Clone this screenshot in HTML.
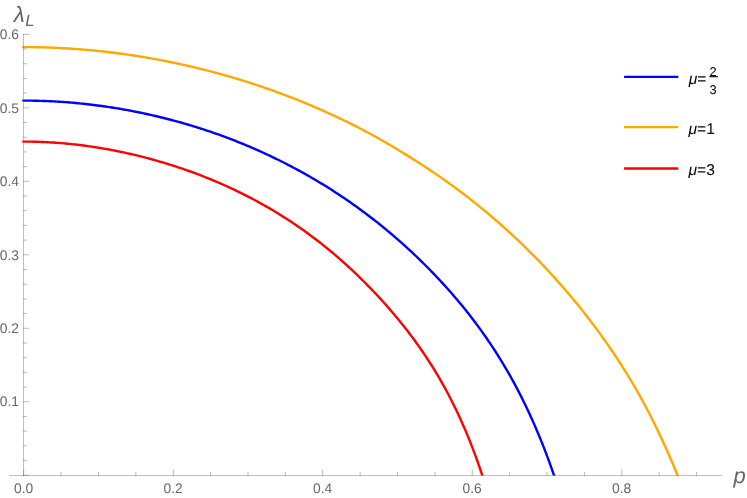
<!DOCTYPE html>
<html><head><meta charset="utf-8"><title>plot</title>
<style>
html,body{margin:0;padding:0;background:#fff;}
body{width:747px;height:498px;overflow:hidden;font-family:"Liberation Sans",sans-serif;}
svg{display:block;will-change:transform;}
text{text-rendering:geometricPrecision;}
</style></head><body>
<svg width="747" height="498" viewBox="0 0 747 498">
<rect width="747" height="498" fill="#fff"/>
<defs><clipPath id="c"><rect x="0" y="0" width="747" height="475.8"/></clipPath></defs>
<g fill="none" stroke-width="2.4" stroke-linejoin="round" clip-path="url(#c)">
<path d="M22.30 100.60 L23.60 100.60 L25.60 100.61 L27.60 100.62 L29.60 100.64 L31.60 100.66 L33.60 100.69 L35.60 100.73 L37.60 100.78 L39.60 100.83 L41.60 100.89 L43.60 100.96 L45.60 101.03 L47.60 101.12 L49.60 101.20 L51.60 101.30 L53.60 101.40 L55.60 101.51 L57.60 101.63 L59.60 101.75 L61.60 101.88 L63.60 102.02 L65.60 102.17 L67.60 102.32 L69.60 102.48 L71.60 102.65 L73.60 102.82 L75.60 103.00 L77.60 103.19 L79.60 103.38 L81.60 103.58 L83.60 103.79 L85.60 104.01 L87.60 104.23 L89.60 104.46 L91.60 104.70 L93.60 104.94 L95.60 105.19 L97.60 105.45 L99.60 105.72 L101.60 105.99 L103.60 106.27 L105.60 106.56 L107.60 106.85 L109.60 107.15 L111.60 107.46 L113.60 107.77 L115.60 108.09 L117.60 108.42 L119.60 108.76 L121.60 109.10 L123.60 109.45 L125.60 109.81 L127.60 110.17 L129.60 110.55 L131.60 110.92 L133.60 111.31 L135.60 111.70 L137.60 112.10 L139.60 112.51 L141.60 112.93 L143.60 113.35 L145.60 113.78 L147.60 114.21 L149.60 114.66 L151.60 115.11 L153.60 115.57 L155.60 116.03 L157.60 116.50 L159.60 116.98 L161.60 117.47 L163.60 117.97 L165.60 118.47 L167.60 118.98 L169.60 119.50 L171.60 120.02 L173.60 120.55 L175.60 121.09 L177.60 121.64 L179.60 122.20 L181.60 122.76 L183.60 123.33 L185.60 123.91 L187.60 124.49 L189.60 125.09 L191.60 125.69 L193.60 126.30 L195.60 126.92 L197.60 127.54 L199.60 128.17 L201.60 128.82 L203.60 129.47 L205.60 130.12 L207.60 130.79 L209.60 131.46 L211.60 132.14 L213.60 132.83 L215.60 133.53 L217.60 134.24 L219.60 134.95 L221.60 135.68 L223.60 136.41 L225.60 137.15 L227.60 137.90 L229.60 138.66 L231.60 139.42 L233.60 140.20 L235.60 140.98 L237.60 141.77 L239.60 142.57 L241.60 143.38 L243.60 144.20 L245.60 145.03 L247.60 145.87 L249.60 146.71 L251.60 147.57 L253.60 148.43 L255.60 149.30 L257.60 150.19 L259.60 151.08 L261.60 151.98 L263.60 152.89 L265.60 153.81 L267.60 154.74 L269.60 155.68 L271.60 156.62 L273.60 157.58 L275.60 158.55 L277.60 159.53 L279.60 160.51 L281.60 161.51 L283.60 162.52 L285.60 163.53 L287.60 164.56 L289.60 165.60 L291.60 166.64 L293.60 167.70 L295.60 168.77 L297.60 169.85 L299.60 170.93 L301.60 172.03 L303.60 173.14 L305.60 174.26 L307.60 175.40 L309.60 176.54 L311.60 177.69 L313.60 178.86 L315.60 180.03 L317.60 181.22 L319.60 182.42 L321.60 183.63 L323.60 184.85 L325.60 186.08 L327.60 187.33 L329.60 188.59 L331.60 189.85 L333.60 191.14 L335.60 192.43 L337.60 193.74 L339.60 195.06 L341.60 196.39 L343.60 197.73 L345.60 199.09 L347.60 200.46 L349.60 201.85 L351.60 203.25 L353.60 204.66 L355.60 206.08 L357.60 207.52 L359.60 208.97 L361.60 210.44 L363.60 211.92 L365.60 213.41 L367.60 214.92 L369.60 216.44 L371.60 217.98 L373.60 219.53 L375.60 221.10 L377.60 222.68 L379.60 224.28 L381.60 225.89 L383.60 227.52 L385.60 229.16 L387.60 230.82 L389.60 232.49 L391.60 234.18 L393.60 235.89 L395.60 237.61 L397.60 239.35 L399.60 241.10 L401.60 242.87 L403.60 244.66 L405.60 246.47 L407.60 248.29 L409.60 250.13 L411.60 251.98 L413.60 253.86 L415.60 255.75 L417.60 257.66 L419.60 259.59 L421.60 261.54 L423.60 263.51 L425.60 265.49 L427.60 267.50 L429.60 269.53 L431.60 271.58 L433.60 273.65 L435.60 275.74 L437.60 277.85 L439.60 279.99 L441.60 282.14 L443.60 284.33 L445.60 286.53 L447.60 288.76 L449.60 291.02 L451.60 293.30 L453.60 295.60 L455.60 297.94 L457.60 300.30 L459.60 302.69 L461.60 305.11 L463.60 307.56 L465.60 310.04 L467.60 312.56 L469.60 315.11 L471.60 317.69 L473.60 320.30 L475.60 322.96 L477.60 325.65 L479.60 328.37 L481.60 331.14 L483.60 333.95 L485.60 336.80 L487.60 339.70 L489.60 342.64 L491.60 345.63 L493.60 348.67 L495.60 351.76 L497.60 354.90 L499.60 358.09 L501.60 361.34 L503.60 364.65 L505.60 368.02 L507.60 371.45 L509.60 374.94 L511.60 378.50 L513.60 382.13 L515.60 385.84 L517.60 389.62 L519.60 393.47 L521.60 397.41 L523.60 401.42 L525.60 405.53 L527.60 409.72 L529.60 414.01 L531.60 418.39 L533.60 422.88 L535.60 427.46 L537.60 432.16 L539.60 436.97 L541.60 441.89 L543.60 446.93 L545.60 452.09 L547.60 457.39 L549.60 462.82 L551.60 468.39 L553.60 474.10 L555.60 479.96" stroke="#0000ff"/>
<path d="M22.30 47.09 L23.60 47.09 L25.60 47.09 L27.60 47.10 L29.60 47.11 L31.60 47.13 L33.60 47.16 L35.60 47.19 L37.60 47.22 L39.60 47.26 L41.60 47.31 L43.60 47.36 L45.60 47.42 L47.60 47.49 L49.60 47.56 L51.60 47.63 L53.60 47.71 L55.60 47.80 L57.60 47.89 L59.60 47.99 L61.60 48.09 L63.60 48.20 L65.60 48.31 L67.60 48.43 L69.60 48.56 L71.60 48.69 L73.60 48.83 L75.60 48.97 L77.60 49.12 L79.60 49.27 L81.60 49.43 L83.60 49.59 L85.60 49.76 L87.60 49.94 L89.60 50.12 L91.60 50.30 L93.60 50.50 L95.60 50.69 L97.60 50.90 L99.60 51.10 L101.60 51.32 L103.60 51.54 L105.60 51.76 L107.60 51.99 L109.60 52.23 L111.60 52.47 L113.60 52.72 L115.60 52.97 L117.60 53.23 L119.60 53.49 L121.60 53.76 L123.60 54.04 L125.60 54.32 L127.60 54.60 L129.60 54.89 L131.60 55.19 L133.60 55.49 L135.60 55.80 L137.60 56.12 L139.60 56.43 L141.60 56.76 L143.60 57.09 L145.60 57.43 L147.60 57.77 L149.60 58.11 L151.60 58.47 L153.60 58.82 L155.60 59.19 L157.60 59.56 L159.60 59.93 L161.60 60.31 L163.60 60.70 L165.60 61.09 L167.60 61.49 L169.60 61.89 L171.60 62.30 L173.60 62.71 L175.60 63.13 L177.60 63.56 L179.60 63.99 L181.60 64.42 L183.60 64.87 L185.60 65.31 L187.60 65.77 L189.60 66.23 L191.60 66.69 L193.60 67.16 L195.60 67.64 L197.60 68.12 L199.60 68.61 L201.60 69.10 L203.60 69.60 L205.60 70.11 L207.60 70.62 L209.60 71.14 L211.60 71.66 L213.60 72.19 L215.60 72.72 L217.60 73.26 L219.60 73.81 L221.60 74.36 L223.60 74.92 L225.60 75.48 L227.60 76.06 L229.60 76.63 L231.60 77.21 L233.60 77.80 L235.60 78.40 L237.60 79.00 L239.60 79.60 L241.60 80.22 L243.60 80.83 L245.60 81.46 L247.60 82.09 L249.60 82.73 L251.60 83.37 L253.60 84.02 L255.60 84.68 L257.60 85.34 L259.60 86.01 L261.60 86.68 L263.60 87.36 L265.60 88.05 L267.60 88.75 L269.60 89.45 L271.60 90.15 L273.60 90.87 L275.60 91.59 L277.60 92.31 L279.60 93.05 L281.60 93.79 L283.60 94.54 L285.60 95.29 L287.60 96.05 L289.60 96.82 L291.60 97.59 L293.60 98.37 L295.60 99.16 L297.60 99.95 L299.60 100.75 L301.60 101.56 L303.60 102.38 L305.60 103.20 L307.60 104.03 L309.60 104.86 L311.60 105.71 L313.60 106.56 L315.60 107.42 L317.60 108.28 L319.60 109.15 L321.60 110.03 L323.60 110.92 L325.60 111.82 L327.60 112.72 L329.60 113.63 L331.60 114.55 L333.60 115.47 L335.60 116.41 L337.60 117.35 L339.60 118.30 L341.60 119.25 L343.60 120.22 L345.60 121.19 L347.60 122.17 L349.60 123.16 L351.60 124.16 L353.60 125.17 L355.60 126.18 L357.60 127.21 L359.60 128.24 L361.60 129.28 L363.60 130.33 L365.60 131.39 L367.60 132.45 L369.60 133.53 L371.60 134.61 L373.60 135.71 L375.60 136.81 L377.60 137.92 L379.60 139.04 L381.60 140.17 L383.60 141.31 L385.60 142.45 L387.60 143.61 L389.60 144.77 L391.60 145.94 L393.60 147.12 L395.60 148.31 L397.60 149.51 L399.60 150.71 L401.60 151.93 L403.60 153.15 L405.60 154.38 L407.60 155.62 L409.60 156.87 L411.60 158.12 L413.60 159.39 L415.60 160.66 L417.60 161.94 L419.60 163.23 L421.60 164.53 L423.60 165.84 L425.60 167.15 L427.60 168.48 L429.60 169.81 L431.60 171.16 L433.60 172.51 L435.60 173.87 L437.60 175.24 L439.60 176.62 L441.60 178.02 L443.60 179.42 L445.60 180.83 L447.60 182.25 L449.60 183.69 L451.60 185.13 L453.60 186.59 L455.60 188.05 L457.60 189.53 L459.60 191.02 L461.60 192.52 L463.60 194.04 L465.60 195.56 L467.60 197.10 L469.60 198.65 L471.60 200.22 L473.60 201.79 L475.60 203.38 L477.60 204.99 L479.60 206.60 L481.60 208.23 L483.60 209.87 L485.60 211.53 L487.60 213.20 L489.60 214.88 L491.60 216.58 L493.60 218.29 L495.60 220.01 L497.60 221.75 L499.60 223.50 L501.60 225.27 L503.60 227.05 L505.60 228.84 L507.60 230.65 L509.60 232.48 L511.60 234.32 L513.60 236.17 L515.60 238.04 L517.60 239.92 L519.60 241.82 L521.60 243.74 L523.60 245.67 L525.60 247.61 L527.60 249.58 L529.60 251.55 L531.60 253.55 L533.60 255.56 L535.60 257.59 L537.60 259.63 L539.60 261.70 L541.60 263.78 L543.60 265.88 L545.60 267.99 L547.60 270.13 L549.60 272.28 L551.60 274.45 L553.60 276.64 L555.60 278.85 L557.60 281.08 L559.60 283.34 L561.60 285.61 L563.60 287.90 L565.60 290.22 L567.60 292.55 L569.60 294.91 L571.60 297.29 L573.60 299.70 L575.61 302.12 L577.61 304.58 L579.61 307.05 L581.61 309.56 L583.61 312.08 L585.62 314.64 L587.62 317.22 L589.63 319.83 L591.64 322.46 L593.64 325.13 L595.65 327.82 L597.67 330.55 L599.68 333.30 L601.69 336.09 L603.71 338.91 L605.72 341.76 L607.74 344.65 L609.76 347.57 L611.78 350.53 L613.81 353.52 L615.83 356.55 L617.85 359.62 L619.87 362.72 L621.90 365.87 L623.92 369.06 L625.94 372.29 L627.95 375.57 L629.97 378.88 L631.98 382.25 L633.99 385.66 L636.00 389.12 L638.00 392.63 L640.00 396.19 L641.99 399.80 L643.99 403.47 L645.98 407.19 L647.96 410.97 L649.94 414.80 L651.93 418.69 L653.91 422.65 L655.88 426.67 L657.86 430.75 L659.84 434.90 L661.82 439.12 L663.79 443.41 L665.77 447.77 L667.75 452.20 L669.73 456.71 L671.71 461.30 L673.70 465.97 L675.68 470.72 L677.67 475.56 L679.66 480.48" stroke="#ffa800"/>
<path d="M22.30 141.58 L23.60 141.58 L25.60 141.58 L27.60 141.60 L29.60 141.62 L31.60 141.65 L33.60 141.69 L35.60 141.74 L37.60 141.80 L39.60 141.86 L41.60 141.94 L43.60 142.02 L45.60 142.11 L47.60 142.22 L49.60 142.33 L51.60 142.45 L53.60 142.57 L55.60 142.71 L57.60 142.86 L59.60 143.01 L61.60 143.17 L63.60 143.34 L65.60 143.52 L67.60 143.71 L69.60 143.91 L71.60 144.12 L73.60 144.33 L75.60 144.55 L77.60 144.79 L79.60 145.03 L81.60 145.27 L83.60 145.53 L85.60 145.80 L87.60 146.07 L89.60 146.35 L91.60 146.65 L93.60 146.95 L95.60 147.25 L97.60 147.57 L99.60 147.90 L101.60 148.23 L103.60 148.57 L105.60 148.92 L107.60 149.28 L109.60 149.65 L111.60 150.02 L113.60 150.40 L115.60 150.80 L117.60 151.20 L119.60 151.60 L121.60 152.02 L123.60 152.45 L125.60 152.88 L127.60 153.32 L129.60 153.77 L131.60 154.23 L133.60 154.70 L135.60 155.17 L137.60 155.65 L139.60 156.15 L141.60 156.65 L143.60 157.15 L145.60 157.67 L147.60 158.20 L149.60 158.73 L151.60 159.27 L153.60 159.82 L155.60 160.38 L157.60 160.95 L159.60 161.53 L161.60 162.11 L163.60 162.71 L165.60 163.31 L167.60 163.92 L169.60 164.54 L171.60 165.17 L173.60 165.81 L175.60 166.46 L177.60 167.11 L179.60 167.78 L181.60 168.45 L183.60 169.14 L185.60 169.83 L187.60 170.53 L189.60 171.25 L191.60 171.97 L193.60 172.70 L195.60 173.44 L197.60 174.19 L199.60 174.95 L201.60 175.72 L203.60 176.50 L205.60 177.29 L207.60 178.09 L209.60 178.90 L211.60 179.72 L213.60 180.56 L215.60 181.40 L217.60 182.25 L219.60 183.11 L221.60 183.99 L223.60 184.87 L225.60 185.77 L227.60 186.67 L229.60 187.59 L231.60 188.52 L233.60 189.46 L235.60 190.41 L237.60 191.37 L239.60 192.34 L241.60 193.33 L243.60 194.32 L245.60 195.33 L247.60 196.35 L249.60 197.38 L251.60 198.43 L253.60 199.48 L255.60 200.55 L257.60 201.63 L259.60 202.73 L261.60 203.84 L263.60 204.96 L265.60 206.09 L267.60 207.23 L269.60 208.39 L271.60 209.57 L273.60 210.75 L275.60 211.95 L277.60 213.17 L279.60 214.40 L281.60 215.64 L283.60 216.90 L285.60 218.18 L287.60 219.46 L289.60 220.77 L291.60 222.09 L293.60 223.42 L295.60 224.78 L297.60 226.14 L299.60 227.53 L301.60 228.93 L303.60 230.34 L305.60 231.78 L307.60 233.23 L309.60 234.70 L311.60 236.18 L313.60 237.68 L315.60 239.20 L317.60 240.74 L319.60 242.30 L321.60 243.87 L323.60 245.46 L325.60 247.07 L327.60 248.70 L329.60 250.34 L331.60 252.01 L333.60 253.69 L335.60 255.39 L337.60 257.11 L339.60 258.85 L341.60 260.61 L343.60 262.39 L345.60 264.19 L347.60 266.00 L349.60 267.84 L351.60 269.70 L353.60 271.57 L355.60 273.47 L357.60 275.38 L359.60 277.32 L361.60 279.28 L363.60 281.26 L365.60 283.26 L367.60 285.29 L369.60 287.33 L371.60 289.40 L373.60 291.49 L375.60 293.60 L377.60 295.74 L379.60 297.90 L381.60 300.09 L383.60 302.30 L385.60 304.54 L387.60 306.81 L389.60 309.10 L391.60 311.42 L393.60 313.77 L395.60 316.15 L397.60 318.56 L399.60 321.00 L401.60 323.48 L403.60 325.99 L405.60 328.53 L407.60 331.11 L409.60 333.73 L411.60 336.38 L413.60 339.08 L415.60 341.82 L417.60 344.60 L419.60 347.42 L421.60 350.30 L423.60 353.22 L425.60 356.20 L427.60 359.22 L429.60 362.31 L431.60 365.45 L433.60 368.65 L435.60 371.91 L437.60 375.24 L439.60 378.64 L441.60 382.12 L443.60 385.66 L445.60 389.29 L447.60 393.00 L449.60 396.80 L451.60 400.69 L453.60 404.67 L455.60 408.75 L457.60 412.94 L459.60 417.23 L461.60 421.64 L463.60 426.17 L465.60 430.82 L467.60 435.61 L469.60 440.53 L471.60 445.59 L473.60 450.81 L475.60 456.18 L477.60 461.72 L479.60 467.43 L481.60 473.33 L483.60 479.41" stroke="#ff0000"/>
</g>
<g><path d="M9 475.5 H722" stroke="#666" stroke-opacity="0.41" stroke-width="1" fill="none" shape-rendering="crispEdges"/><path d="M23.5 34 V476" stroke="#666" stroke-opacity="0.41" stroke-width="1" fill="none" shape-rendering="crispEdges"/><path d="M23.72 469.5 V476 M61.10 472 V476 M98.48 472 V476 M135.86 472 V476 M173.24 469.5 V476 M210.62 472 V476 M248.00 472 V476 M285.38 472 V476 M322.76 469.5 V476 M360.14 472 V476 M397.52 472 V476 M434.90 472 V476 M472.28 469.5 V476 M509.66 472 V476 M547.04 472 V476 M584.42 472 V476 M621.80 469.5 V476 M659.18 472 V476 M696.56 472 V476 M23 475.25 H29 M23 460.55 H27 M23 445.86 H27 M23 431.16 H27 M23 416.47 H27 M23 401.77 H29 M23 387.07 H27 M23 372.38 H27 M23 357.68 H27 M23 342.99 H27 M23 328.29 H29 M23 313.59 H27 M23 298.90 H27 M23 284.20 H27 M23 269.51 H27 M23 254.81 H29 M23 240.11 H27 M23 225.42 H27 M23 210.72 H27 M23 196.03 H27 M23 181.33 H29 M23 166.63 H27 M23 151.94 H27 M23 137.24 H27 M23 122.55 H27 M23 107.85 H29 M23 93.15 H27 M23 78.46 H27 M23 63.76 H27 M23 49.07 H27 M23 34.37 H29" stroke="#666" stroke-width="0.45" fill="none"/></g>
<g><text x="23.6" y="493" text-anchor="middle" font-family="Liberation Sans, sans-serif" font-size="13.8" fill="#666">0.0</text><text x="173.1" y="493" text-anchor="middle" font-family="Liberation Sans, sans-serif" font-size="13.8" fill="#666">0.2</text><text x="322.6" y="493" text-anchor="middle" font-family="Liberation Sans, sans-serif" font-size="13.8" fill="#666">0.4</text><text x="472.2" y="493" text-anchor="middle" font-family="Liberation Sans, sans-serif" font-size="13.8" fill="#666">0.6</text><text x="621.7" y="493" text-anchor="middle" font-family="Liberation Sans, sans-serif" font-size="13.8" fill="#666">0.8</text><text x="18.9" y="405.97" text-anchor="end" font-family="Liberation Sans, sans-serif" font-size="13.8" fill="#666">0.1</text><text x="18.9" y="332.59" text-anchor="end" font-family="Liberation Sans, sans-serif" font-size="13.8" fill="#666">0.2</text><text x="18.9" y="259.51" text-anchor="end" font-family="Liberation Sans, sans-serif" font-size="13.8" fill="#666">0.3</text><text x="18.9" y="186.03" text-anchor="end" font-family="Liberation Sans, sans-serif" font-size="13.8" fill="#666">0.4</text><text x="18.9" y="112.55" text-anchor="end" font-family="Liberation Sans, sans-serif" font-size="13.8" fill="#666">0.5</text><text x="18.9" y="39.07" text-anchor="end" font-family="Liberation Sans, sans-serif" font-size="13.8" fill="#666">0.6</text></g>
<g font-family="Liberation Sans, sans-serif" fill="#666" font-style="italic">
<text x="13.7" y="21.8" font-size="22.3">λ</text>
<text x="25.2" y="25.5" font-size="16.4">L</text>
<text x="733.4" y="483.2" font-size="22">p</text>
</g>
<g fill="none" stroke-width="2.4">
<path d="M624.1 76.9 H678.3" stroke="#0000ff"/>
<path d="M624.1 127.15 H678.3" stroke="#ffa800"/>
<path d="M624.1 168.5 H678.3" stroke="#ff0000"/>
</g>
<g font-family="Liberation Sans, sans-serif" fill="#000" font-size="15.6">
<text x="688.8" y="83.5"><tspan font-style="italic">μ</tspan>=</text>
<text x="713" y="75.5" font-size="12.8" text-anchor="middle">2</text>
<path d="M709.4 76.7 H718" stroke="#111" stroke-width="1.2"/>
<text x="713" y="93.8" font-size="12.8" text-anchor="middle">3</text>
<text x="688.5" y="133.8"><tspan font-style="italic">μ</tspan>=1</text>
<text x="688.5" y="175.4"><tspan font-style="italic">μ</tspan>=3</text>
</g>
</svg>
</body></html>
